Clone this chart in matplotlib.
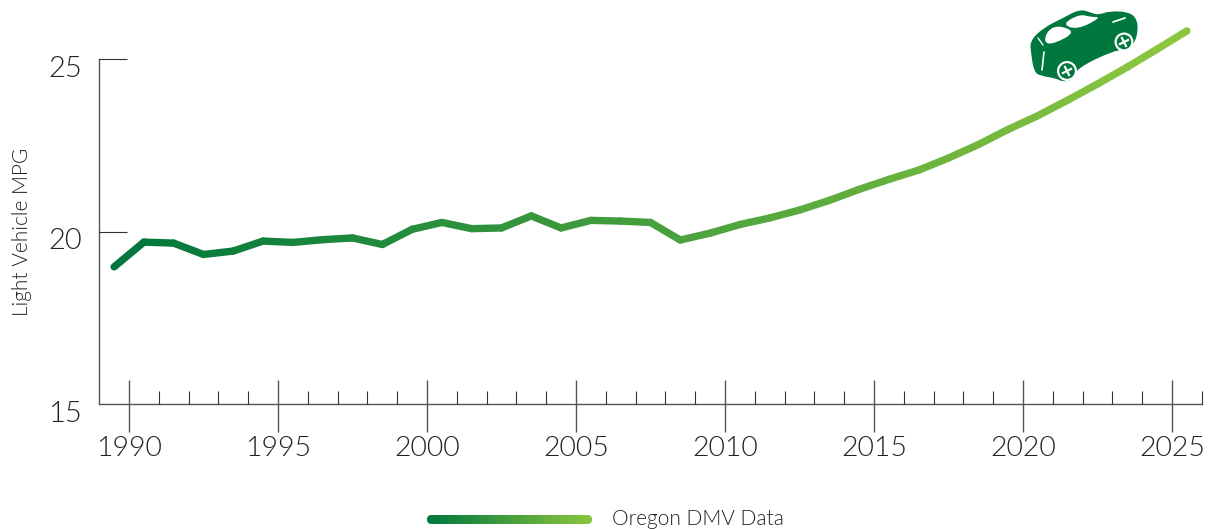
import numpy as np
import matplotlib
matplotlib.use("Agg")
import matplotlib.pyplot as plt
from matplotlib.collections import LineCollection
from matplotlib.colors import LinearSegmentedColormap
from matplotlib.patches import Circle, PathPatch, FancyBboxPatch
from matplotlib.path import Path

# data
years = list(range(1990, 2027))
mpg = [18.98, 19.70, 19.67, 19.34, 19.44, 19.73, 19.69, 19.77, 19.82, 19.63,
       20.07, 20.27, 20.09, 20.11, 20.46, 20.11, 20.33, 20.31, 20.27, 19.76,
       19.96, 20.21, 20.40, 20.63, 20.91, 21.23, 21.52, 21.79, 22.14, 22.53,
       22.97, 23.37, 23.82, 24.29, 24.78, 25.30, 25.83]
y_ticks = [15, 20, 25]
x_major = [1990, 1995, 2000, 2005, 2010, 2015, 2020, 2025]
x_minor = [y for y in range(1990, 2027) if y not in x_major]
legend_label = "Oregon DMV Data"
y_label = "Light Vehicle MPG"

plt.rcParams['font.family'] = ['Lato', 'DejaVu Sans']
W, H = 1210, 529
GREEN = "#00773c"
LIGHT = "#8cc63f"
AXIS = "#555555"
TEXT = "#222222"
cmap = LinearSegmentedColormap.from_list("g", [GREEN, LIGHT])


def smooth(pts):
    # closed outline through the midpoints, the points act as curve controls
    pts = np.array(pts, dtype=float)
    mids = (pts + np.roll(pts, -1, axis=0)) / 2
    verts = [mids[-1]]
    codes = [Path.MOVETO]
    for p, m in zip(pts, mids):
        verts += [p, m]
        codes += [Path.CURVE3, Path.CURVE3]
    return Path(verts, codes)


fig = plt.figure(figsize=(W / 100, H / 100), dpi=100)

# axes box runs from the y axis at px 99 to the end of the x axis at px 1202
ax = fig.add_axes([99 / W, 1 - 404 / H, (1202 - 99) / W, (404 - 59.5) / H])
ppy = (1172 - 129) / 35
ax.set_xlim(1990 - (129 - 99) / ppy, 1990 + (1202 - 129) / ppy)
ax.set_ylim(15, 25)
ax.patch.set_visible(False)
for s in ["top", "right"]:
    ax.spines[s].set_visible(False)
for s in ["left", "bottom"]:
    ax.spines[s].set_color(AXIS)
    ax.spines[s].set_linewidth(1.0)
    ax.spines[s].set_zorder(1)

# line, x values sit half a year before the tick
x = np.array(years) - 0.5
y = np.array(mpg)
pts = np.column_stack([x, y])
segs = np.stack([pts[:-1], pts[1:]], axis=1)
lc = LineCollection(segs, array=np.linspace(0, 1, len(segs)), cmap=cmap,
                    linewidths=5.3, capstyle="round", joinstyle="round", zorder=3,
                    clip_on=False)
ax.add_collection(lc)

# ticks
ax.set_yticks([20, 25])
ax.set_yticklabels([])
ax.tick_params(axis="y", direction="in", length=20, width=0.8, color="#333333")
ax.set_xticks(x_major)
ax.set_xticklabels([])
ax.tick_params(axis="x", which="major", direction="out", length=20, width=1.0, color=AXIS)
ax.set_xticks(x_minor, minor=True)
ax.tick_params(axis="x", which="minor", direction="in", length=9.4, width=0.8, color="#333333")
# upper part of the major ticks
ax.vlines(x_major, 0, 24 / 344.5, transform=ax.get_xaxis_transform(), color=AXIS, lw=1.0)

# tick labels placed by hand since the 15 sits below the axis
for v, py in zip(y_ticks, [414, 241, 69]):
    fig.text(65 / W, 1 - py / H, str(v), fontsize=21, color=TEXT, fontweight=300,
             ha="center", va="center")
for yr in x_major:
    ax.annotate(str(yr), (yr, 15), xytext=(0, -45), textcoords="offset pixels",
                fontsize=20.5, color=TEXT, fontweight=300, ha="center", va="center")

fig.text(22 / W, 1 - 232 / H, y_label, rotation=90, fontsize=15, color=TEXT, fontweight=300,
         ha="center", va="center")

# legend: gradient bar with text
lax = fig.add_axes([427 / W, 1 - 524 / H, (592 - 427) / W, 9 / H])
lax.axis("off")
lax.set_xlim(0, 165)
lax.set_ylim(0, 9)
im = lax.imshow(np.linspace(0, 1, 256)[None, :], cmap=cmap, aspect="auto", extent=(0, 165, 0, 9))
clip = FancyBboxPatch((0, 0), 165, 9, boxstyle="round,pad=0,rounding_size=4.5",
                      transform=lax.transData, fc="none", ec="none")
lax.add_patch(clip)
im.set_clip_path(clip)
fig.text(612 / W, 1 - 519 / H, legend_label, fontsize=15, color=TEXT, fontweight=300,
         ha="left", va="center")

# car icon, in pixel coordinates of the picture
iax = fig.add_axes([0, 0, 1, 1])
iax.set_xlim(0, W)
iax.set_ylim(H, 0)
iax.axis("off")
iax.patch.set_visible(False)
body = [(1030, 41), (1043, 28), (1063, 18), (1080, 9), (1092, 13), (1098, 15), (1110, 11),
        (1129, 12), (1137, 19), (1138, 32), (1134, 44), (1128, 50), (1115, 50), (1077, 68),
        (1073, 80), (1063, 82), (1055, 78), (1041, 76), (1034, 72), (1031, 53)]
iax.add_patch(PathPatch(smooth(body), fc=GREEN, ec="none"))
iax.add_patch(PathPatch(smooth([(1044, 43), (1047, 31), (1058, 25), (1076, 32), (1054, 44)]),
                        fc="white", ec="none"))
iax.add_patch(PathPatch(smooth([(1062, 24), (1080, 14), (1090, 17), (1102, 17), (1077, 30)]),
                        fc="white", ec="none"))
iax.plot([1113, 1125], [22, 18], color="white", lw=1.3, solid_capstyle="round")
iax.plot([1044, 1042], [52, 70], color="white", lw=1.2, solid_capstyle="round")
iax.plot([1038, 1043], [38, 45], color="white", lw=1.0, solid_capstyle="round")
for cx, cy, r in [(1067, 71, 10), (1124, 42, 9.5)]:
    iax.add_patch(Circle((cx, cy), r, fc="white", ec="none"))
    iax.add_patch(Circle((cx, cy), r - 2.2, fc=GREEN, ec="none"))
    iax.plot([cx - 4, cx + 4], [cy + 2, cy - 2], color="white", lw=1.6)
    iax.plot([cx - 2, cx + 2], [cy - 4, cy + 4], color="white", lw=1.6)

fig.savefig("out.png", dpi=100)
